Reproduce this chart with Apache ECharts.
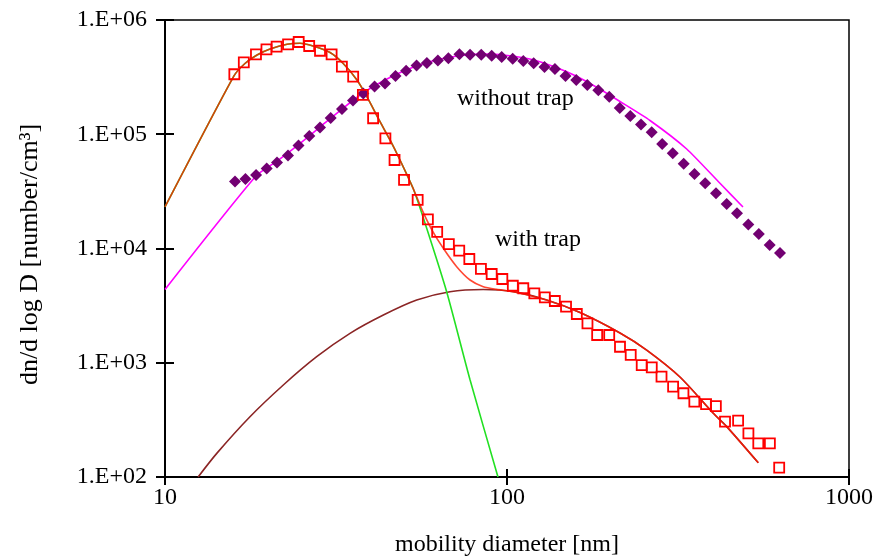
<!DOCTYPE html>
<html><head><meta charset="utf-8">
<script src="https://cdn.jsdelivr.net/npm/echarts@6/dist/echarts.min.js"></script>
<style>html,body{margin:0;padding:0;background:#fff}#c{width:874px;height:558px}</style>
</head><body><div id="c"></div>
<script>
// With trap: measured (open squares)
const withTrapD = [15.95,17.0,18.45,19.8,21.2,22.9,24.6,26.4,28.4,30.7,32.9,35.5,37.9,40.6,44.1,46.9,50.0,54.8,58.7,62.5,67.6,72.5,77.6,83.9,90.2,96.9,104,111.6,120.2,129,138,148.8,160,171.9,183.5,199,214,230,247.7,265,283,306,328,353,382,408,434,474,508,543,587,625];
const withTrapN = [3.35e5,4.26e5,5.01e5,5.54e5,5.84e5,6.13e5,6.42e5,5.92e5,5.38e5,5.01e5,3.90e5,3.19e5,2.21e5,1.38e5,9.22e4,5.95e4,3.98e4,2.66e4,1.80e4,1.40e4,1.09e4,9570,8090,6620,5980,5410,4720,4490,4050,3740,3470,3100,2670,2210,1750,1750,1380,1170,955,912,755,617,541,456,435,418,305,311,241,197,197,121];
// Without trap: measured (filled diamonds)
const noTrapD = [16.02,17.19,18.46,19.83,21.26,22.89,24.57,26.42,28.39,30.51,32.92,35.46,38.0,41.0,43.98,47.2,50.7,54.4,58.3,62.8,67.4,72.6,77.97,84.1,90.2,96.5,103.9,111.6,119.7,128.7,138.1,148.3,159.4,171.7,184.9,199.1,213.6,229.4,246.5,264.9,284.3,305.3,328.6,353.4,379.7,408.4,438.9,470.5,507.6,544.8,586.2,628.4];
const noTrapN = [3.86e4,4.06e4,4.40e4,5.01e4,5.66e4,6.52e4,7.97e4,9.65e4,1.146e5,1.388e5,1.663e5,1.974e5,2.273e5,2.618e5,2.78e5,3.235e5,3.592e5,3.998e5,4.204e5,4.42e5,4.62e5,5.02e5,4.97e5,4.97e5,4.87e5,4.74e5,4.58e5,4.38e5,4.18e5,3.88e5,3.72e5,3.235e5,2.984e5,2.70e5,2.424e5,2.131e5,1.697e5,1.444e5,1.217e5,1.040e5,8.21e4,6.81e4,5.52e4,4.49e4,3.72e4,3.04e4,2.45e4,2.03e4,1.62e4,1.34e4,1.073e4,9130];
// Fit: nucleation mode (green)
const mode1D = [10,15.91,17.13,18.58,20.28,22.74,24.81,27.08,30.38,33.15,36.42,38.96,42.53,45.49,48.65,53.1,57.57,66.77,78.0,94.1];
const mode1N = [2.31e4,3.24e5,4.16e5,4.94e5,5.57e5,6.13e5,6.26e5,5.92e5,5.19e5,4.18e5,2.98e5,2.12e5,1.29e5,8.91e4,5.95e4,3.38e4,1.67e4,4080,706,100];
// Fit: accumulation mode (brown)
const mode2D = [12.5,14.17,17.72,22.18,27.77,34.75,43.5,54.45,68.1,85.2,104.3,130.6,163.5,214,256.1,320.4,401,439,543];
const mode2N = [100,161,337,639,1130,1810,2617,3541,4187,4376,4190,3540,2750,1820,1290,750,361,276,133];
// Fit: total with trap (red)
const totalD = [10,15.91,17.13,18.58,20.28,22.74,24.81,27.08,30.38,33.15,36.42,38.96,42.53,45.49,48.65,53.1,56.81,60.35,65.12,71.27,77.96,85.24,93.3,104.3,130.6,163.5,214,256.1,320.4,401,439,543];
const totalN = [2.31e4,3.24e5,4.16e5,4.94e5,5.57e5,6.13e5,6.26e5,5.92e5,5.19e5,4.18e5,2.98e5,2.12e5,1.29e5,8.91e4,5.95e4,3.38e4,2.09e4,1.45e4,1.004e4,6930,5300,4630,4390,4190,3540,2750,1820,1290,750,361,276,133];
// Fit: without trap (magenta)
const fitNoTrapD = [10,18.45,21.26,24.48,28.39,32.92,37.93,43.98,50.68,58.36,67.22,77.96,89.8,103.4,119.9,138.1,159.1,184.5,214,261.9,335.3,419.5,489.8];
const fitNoTrapN = [4380,4.31e4,5.83e4,8.05e4,1.157e5,1.663e5,2.297e5,2.984e5,3.65e5,4.246e5,4.697e5,4.99e5,5.04e5,4.84e5,4.47e5,3.88e5,3.24e5,2.54e5,1.935e5,1.32e5,7.43e4,3.72e4,2.31e4];

const xTicks = [10, 100, 1000];
const labels = ['without trap', 'with trap'];

const zip = (a, b) => a.map((v, i) => [v, b[i]]);
const FONT = 'Liberation Serif';
const FS = 24;
const yFmt = v => '1.E+' + String(Math.round(Math.log10(v))).padStart(2, '0');

const chart = echarts.init(document.getElementById('c'), null, {renderer: 'canvas'});
const lineStyleBase = (color, w, op) => ({color, width: w, opacity: op == null ? 1 : op});
chart.setOption({
  animation: false,
  backgroundColor: '#fff',
  grid: {left: 165, right: 25, top: 20, bottom: 81, containLabel: false, outerBoundsMode: 'none',
         show: true, borderColor: '#000', borderWidth: 1.5, backgroundColor: 'transparent'},
  xAxis: [
    {type: 'log', logBase: 10, min: 10, max: 1000, position: 'bottom',
     name: 'mobility diameter [nm]', nameLocation: 'middle', nameGap: 56,
     nameTextStyle: {fontFamily: FONT, fontSize: FS, color: '#000'},
     axisLine: {show: true, lineStyle: {color: '#000', width: 2}},
     axisTick: {show: true, inside: false, length: 8, lineStyle: {color: '#000', width: 2}},
     minorTick: {show: false}, splitLine: {show: false},
     axisLabel: {fontFamily: FONT, fontSize: FS, color: '#000', margin: 9,
       formatter: v => xTicks.includes(Math.round(v)) ? String(Math.round(v)) : ''}},
    {type: 'log', logBase: 10, min: 10, max: 1000, position: 'bottom',
     axisLine: {show: false}, axisTick: {show: true, inside: true, length: 8, lineStyle: {color: '#000', width: 2}},
     axisLabel: {show: false}, splitLine: {show: false}}
  ],
  yAxis: [
    {type: 'log', logBase: 10, min: 100, max: 1e6, position: 'left',
     name: 'dn/d log D [number/cm³]', nameLocation: 'middle', nameGap: 122, nameRotate: 90,
     nameTextStyle: {fontFamily: FONT, fontSize: 26, color: '#000', padding: [0, 12, 0, 0]},
     axisLine: {show: true, lineStyle: {color: '#000', width: 2}},
     axisTick: {show: true, inside: false, length: 9, lineStyle: {color: '#000', width: 2}},
     splitLine: {show: false},
     axisLabel: {fontFamily: FONT, fontSize: FS, color: '#000', margin: 18, formatter: yFmt}},
    {type: 'log', logBase: 10, min: 100, max: 1e6, position: 'left',
     axisLine: {show: false}, axisTick: {show: true, inside: true, length: 9, lineStyle: {color: '#000', width: 2}},
     axisLabel: {show: false}, splitLine: {show: false}}
  ],
  series: [
    {type: 'line', name: 'mode2', data: zip(mode2D, mode2N), showSymbol: false, smooth: 0.3, clip: true,
     lineStyle: lineStyleBase('#8b2525', 1.6), z: 2},
    {type: 'line', name: 'mode1', data: zip(mode1D, mode1N), showSymbol: false, smooth: 0.2, clip: true,
     lineStyle: lineStyleBase('#22e022', 1.6), z: 2},
    {type: 'line', name: 'total', data: zip(totalD, totalN), showSymbol: false, smooth: 0.2, clip: true,
     lineStyle: lineStyleBase('#ff1a00', 1.6, 0.8), z: 3},
    {type: 'line', name: 'fitNoTrap', data: zip(fitNoTrapD, fitNoTrapN), showSymbol: false, smooth: 0.2, clip: true,
     lineStyle: lineStyleBase('#ff00ff', 1.6), z: 3},
    {type: 'scatter', name: 'without trap', data: zip(noTrapD, noTrapN), symbol: 'diamond', symbolSize: [12, 12],
     itemStyle: {color: '#720072', opacity: 1}, z: 5},
    {type: 'scatter', name: 'with trap', data: zip(withTrapD, withTrapN), symbol: 'rect', symbolSize: 10,
     itemStyle: {color: 'rgba(255,255,255,0)', borderColor: '#ff0000', borderWidth: 1.8, opacity: 1}, z: 6}
  ],
  graphic: [
    {type: 'text', left: 457, top: 87, style: {text: labels[0], font: FS + 'px "Liberation Serif"', fill: '#000'}},
    {type: 'text', left: 495, top: 228, style: {text: labels[1], font: FS + 'px "Liberation Serif"', fill: '#000'}}
  ]
});
</script></body></html>
